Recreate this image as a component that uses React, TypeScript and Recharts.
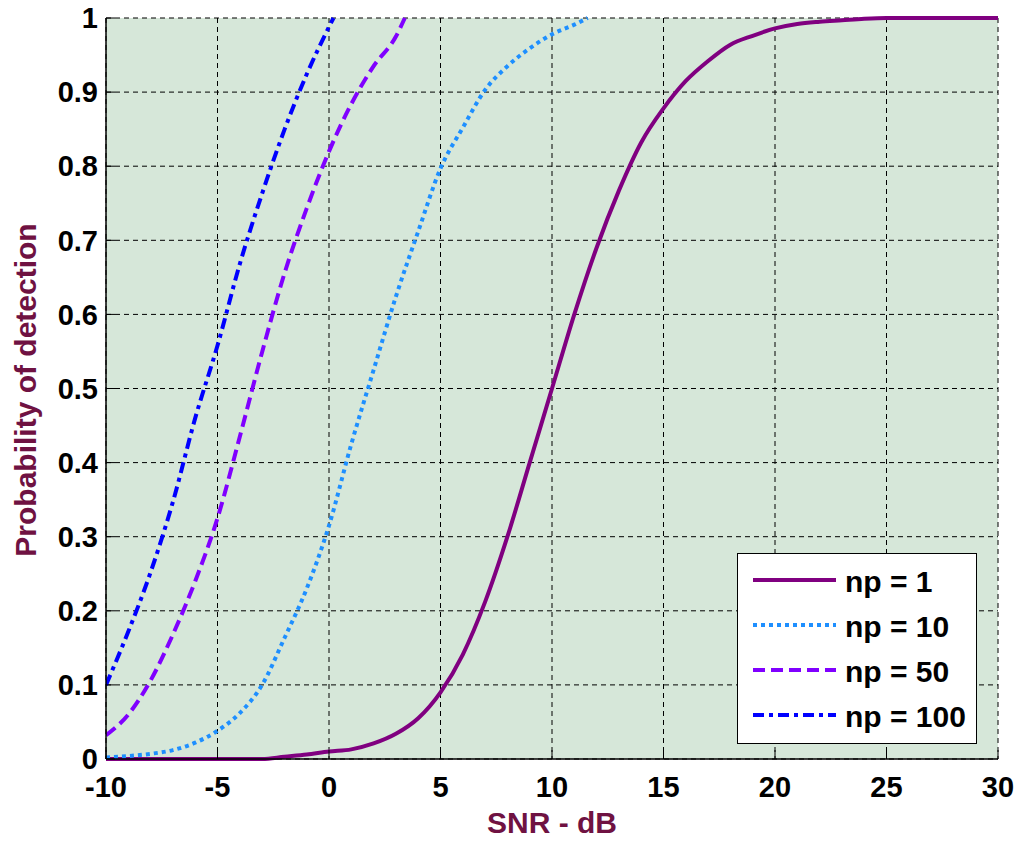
import React from 'react';
import { LineChart, Line, XAxis, YAxis, CartesianGrid, Legend, Label } from 'recharts';

const snrTicks = [-10, -5, 0, 5, 10, 15, 20, 25, 30];
const pdTicks = [0, 0.1, 0.2, 0.3, 0.4, 0.5, 0.6, 0.7, 0.8, 0.9, 1];
const pdTickLabels = ['0', '0.1', '0.2', '0.3', '0.4', '0.5', '0.6', '0.7', '0.8', '0.9', '1'];

const np1Snr = [-10, -3, -2, -1, 0, 1, 2, 3, 4, 5, 6, 7, 8, 9, 10, 11, 12, 13, 14, 15, 16, 17, 18, 19, 20, 21, 22, 23, 24, 25, 30];
const np1Pd = [0, 0, 0.003, 0.006, 0.01, 0.013, 0.021, 0.034, 0.055, 0.09, 0.141, 0.212, 0.3, 0.4, 0.5, 0.6, 0.69, 0.767, 0.832, 0.878, 0.915, 0.942, 0.964, 0.976, 0.986, 0.992, 0.995, 0.997, 0.999, 1, 1];

const np10Snr = [-10, -9, -8, -7, -6, -5, -4, -3, -2, -1, 0, 1, 2, 3, 4, 5, 6, 7, 8, 9, 10, 11, 11.6];
const np10Pd = [0.002, 0.004, 0.007, 0.012, 0.022, 0.038, 0.062, 0.1, 0.163, 0.23, 0.315, 0.425, 0.525, 0.624, 0.712, 0.797, 0.852, 0.903, 0.935, 0.959, 0.978, 0.991, 1];

const np50Snr = [-10, -9, -8, -7, -6, -5, -4, -3, -2, -1, 0, 1, 2, 3, 3.4];
const np50Pd = [0.032, 0.06, 0.106, 0.168, 0.24, 0.325, 0.435, 0.549, 0.655, 0.743, 0.82, 0.884, 0.935, 0.975, 1];

const np100Snr = [-10, -9, -8, -7, -6, -5, -4, -3, -2, -1, 0, 0.2];
const np100Pd = [0.1, 0.172, 0.252, 0.347, 0.46, 0.558, 0.668, 0.763, 0.849, 0.924, 0.988, 1];

const seriesNames = ['np = 1', 'np = 10', 'np = 50', 'np = 100'];

const toRows = (xs: number[], ys: number[]) => xs.map((x, i) => ({ snr: x, pd: ys[i] }));

const series = [
  { name: seriesNames[0], data: toRows(np1Snr, np1Pd), color: '#800080', dash: undefined as string | undefined, width: 4 },
  { name: seriesNames[1], data: toRows(np10Snr, np10Pd), color: '#1E8FFF', dash: '4 4', width: 4 },
  { name: seriesNames[2], data: toRows(np50Snr, np50Pd), color: '#8000FF', dash: '12 6', width: 4 },
  { name: seriesNames[3], data: toRows(np100Snr, np100Pd), color: '#0000FF', dash: '11 5 4 5', width: 4 },
];

const FONT = '"Liberation Sans", Arial, Helvetica, sans-serif';
const LABEL_COLOR = '#6f1242';

const renderLegend = () => (
  <div style={{ width: 240, height: 191, background: '#fff', border: '1px solid #000', boxSizing: 'border-box' }}>
    <svg width={238} height={189} style={{ display: 'block' }}>
      {series.map((s, i) => (
        <g key={s.name}>
          <line x1={15} x2={98} y1={26 + 45 * i} y2={26 + 45 * i} stroke={s.color} strokeWidth={s.width} strokeDasharray={s.dash} />
          <text x={107} y={38 + 45 * i} fontFamily={FONT} fontWeight="bold" fontSize={30} fill="#000">{s.name}</text>
        </g>
      ))}
    </svg>
  </div>
);

const tickStyle = { fontFamily: FONT, fontWeight: 'bold', fontSize: 29, fill: '#000' } as any;

export default function App() {
  return (
    <div style={{ position: 'absolute', left: 0, top: 0, width: 1021, height: 842, background: '#fff' }}>
      <LineChart width={1021} height={842} margin={{ top: 18, right: 23, bottom: 0, left: 0 }}>
        <CartesianGrid stroke="#000" strokeDasharray="5 4" strokeWidth={1} fill="#d6e7d9" fillOpacity={1} />
        <XAxis
          dataKey="snr"
          type="number"
          domain={[-10, 30]}
          ticks={snrTicks}
          allowDataOverflow
          height={83}
          interval={0}
          tick={tickStyle}
          tickSize={-9}
          tickMargin={26}
          tickLine={{ stroke: '#000' }}
          axisLine={{ stroke: '#000', strokeWidth: 1.5 }}
        >
          <Label
            content={({ viewBox }: any) => (
              <text x={viewBox.x + viewBox.width / 2} y={viewBox.y + 74} textAnchor="middle" fontFamily={FONT} fontWeight="bold" fontSize={30} fill={LABEL_COLOR}>
                SNR - dB
              </text>
            )}
          />
        </XAxis>
        <XAxis
          xAxisId="top"
          dataKey="snr"
          type="number"
          orientation="top"
          domain={[-10, 30]}
          ticks={snrTicks}
          height={0}
          mirror
          tick={false}
          tickSize={9}
          tickLine={{ stroke: '#000' }}
          axisLine={{ stroke: '#000', strokeWidth: 1.5 }}
        />
        <YAxis
          type="number"
          domain={[0, 1]}
          ticks={pdTicks}
          interval={0}
          width={106}
          tick={tickStyle}
          tickFormatter={(v: number) => pdTickLabels[pdTicks.findIndex((t) => Math.abs(t - v) < 1e-9)] ?? String(v)}
          tickSize={-9}
          tickMargin={17}
          tickLine={{ stroke: '#000' }}
          axisLine={{ stroke: '#000', strokeWidth: 1.5 }}
        >
          <Label
            content={() => (
              <text x={36} y={390} transform="rotate(-90 36 390)" textAnchor="middle" fontFamily={FONT} fontWeight="bold" fontSize={30} fill={LABEL_COLOR}>
                Probability of detection
              </text>
            )}
          />
        </YAxis>
        <YAxis
          yAxisId="right"
          orientation="right"
          type="number"
          domain={[0, 1]}
          ticks={pdTicks}
          width={0}
          mirror
          tick={false}
          tickSize={9}
          tickLine={{ stroke: '#000' }}
          axisLine={{ stroke: '#000', strokeWidth: 1.5 }}
        />
        <Legend
          layout="vertical"
          align="center"
          verticalAlign="middle"
          content={renderLegend}
          wrapperStyle={{ left: 737, top: 553, width: 240, height: 191 }}
        />
        {series.map((s) => (
          <Line
            key={s.name}
            name={s.name}
            data={s.data}
            dataKey="pd"
            type="monotone"
            stroke={s.color}
            strokeWidth={s.width}
            strokeDasharray={s.dash}
            dot={false}
            activeDot={false}
            isAnimationActive={false}
          />
        ))}
      </LineChart>
    </div>
  );
}
